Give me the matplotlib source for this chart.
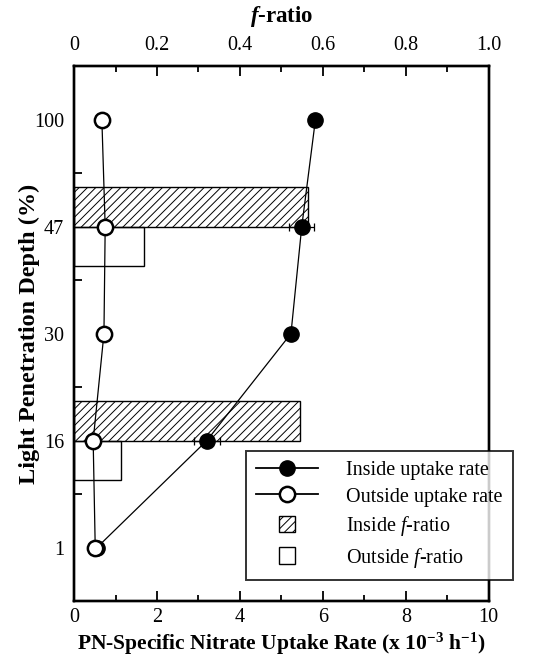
import numpy as np
import matplotlib
matplotlib.use("Agg")
import matplotlib.pyplot as plt
import matplotlib.patches as mpatches
from matplotlib.lines import Line2D
from matplotlib.legend_handler import HandlerPatch

plt.rcParams["font.family"] = ["Liberation Serif", "DejaVu Serif"]
plt.rcParams["mathtext.fontset"] = "custom"
plt.rcParams["mathtext.rm"] = "Liberation Serif:bold"
plt.rcParams["mathtext.it"] = "Liberation Serif:italic"
plt.rcParams["mathtext.bf"] = "Liberation Serif:bold"
plt.rcParams["mathtext.bfit"] = "Liberation Serif:bold:italic"
plt.rcParams["hatch.linewidth"] = 0.7

# depth levels, bottom to top
depth_labels = ["1", "16", "30", "47", "100"]
inside_rate = [0.55, 3.2, 5.23, 5.49, 5.82]
inside_err = [0, 0.32, 0, 0.30, 0]
outside_rate = [0.51, 0.46, 0.72, 0.75, 0.67]

# f-ratio bars only at 16 and 47 %
f_depths = ["16", "47"]
inside_f = [0.546, 0.565]
outside_f = [0.113, 0.168]

ypos = np.arange(len(depth_labels))
fpos = [depth_labels.index(d) for d in f_depths]

fig = plt.figure(figsize=(5.33, 6.62), dpi=100)
ax = fig.add_axes([0.139, 0.092, 0.778, 0.808])
ax2 = ax.twiny()

# bars on the f-ratio axis
ax2.barh(fpos, inside_f, height=0.37, align="edge", facecolor="white",
         edgecolor="black", hatch="////", linewidth=1.0, zorder=1)
ax2.barh(fpos, outside_f, height=-0.37, align="edge", facecolor="none",
         edgecolor="black", linewidth=1.0, zorder=1)
ax2.set_xlim(0, 1.0)
ax2.set_xticks([0, 0.2, 0.4, 0.6, 0.8, 1.0])
ax2.set_xticklabels(["0", "0.2", "0.4", "0.6", "0.8", "1.0"])
ax2.set_xticks([0.1, 0.3, 0.5, 0.7, 0.9], minor=True)
ax2.tick_params(axis="x", which="major", direction="in", length=7, width=1.3, labelsize=14.5, pad=8)
ax2.tick_params(axis="x", which="minor", direction="in", length=4, width=1.3)
ax2.set_xlabel(r"$\mathbfit{f}$-ratio", fontsize=16.5, fontweight="bold", labelpad=10)

# uptake rate lines on the main axis, drawn above the bars
ax.set_zorder(ax2.get_zorder() + 1)
ax.patch.set_visible(False)
ax.errorbar(inside_rate, ypos, xerr=inside_err, fmt="-o", color="black",
            mfc="black", mec="black", ms=11, lw=0.9, elinewidth=0.9,
            capsize=3, capthick=0.9, zorder=3)
ax.plot(outside_rate, ypos, "-o", color="black", mfc="white", mec="black",
        ms=11, mew=1.8, lw=0.9, zorder=4)

ax.set_xlim(0, 10)
ax.set_ylim(-0.5, 4.5)
ax.set_xticks([0, 2, 4, 6, 8, 10])
ax.set_xticks([1, 3, 5, 7, 9], minor=True)
ax.tick_params(axis="x", which="major", direction="in", length=7, width=1.3, labelsize=14.5, pad=5)
ax.tick_params(axis="x", which="minor", direction="in", length=4, width=1.3)
ax.set_yticks(ypos)
ax.set_yticklabels(depth_labels)
ax.set_yticks(ypos[:-1] + 0.5, minor=True)
ax.tick_params(axis="y", which="major", length=0, labelsize=14.5, pad=7)
ax.tick_params(axis="y", which="minor", direction="in", length=6, width=1.3)
for sp in ax.spines.values():
    sp.set_linewidth(1.7)
for sp in ax2.spines.values():
    sp.set_linewidth(1.7)

ax.set_xlabel(r"PN-Specific Nitrate Uptake Rate (x 10$^{-3}$ h$^{-1}$)",
              fontsize=15.5, fontweight="bold", labelpad=3)
ax.set_ylabel("Light Penetration Depth (%)", fontsize=17.5, fontweight="bold")
ax.yaxis.set_label_coords(-0.083, 0.5)


def small_box(legend, orig_handle, xdescent, ydescent, width, height, fontsize):
    s = 12
    return mpatches.Rectangle((-xdescent + width / 2 - s / 2, -ydescent + height / 2 - s / 2), s, s)


handles = [
    Line2D([], [], color="black", marker="o", mfc="black", mec="black", ms=11, lw=1.3),
    Line2D([], [], color="black", marker="o", mfc="white", mec="black", ms=11, mew=1.8, lw=1.3),
    mpatches.Patch(facecolor="white", edgecolor="black", hatch="////", linewidth=1.0),
    mpatches.Patch(facecolor="white", edgecolor="black", linewidth=1.0),
]
labels = ["Inside uptake rate", "Outside uptake rate",
          r"Inside $f$-ratio", r"Outside $f$-ratio"]
leg = ax.legend(handles, labels, loc="lower left",
                bbox_to_anchor=(0.462, 0.124), bbox_transform=fig.transFigure,
                fontsize=14.5, frameon=True, fancybox=False, handlelength=3.05,
                handletextpad=1.4, labelspacing=0.38, borderpad=0.5,
                borderaxespad=0,
                handler_map={mpatches.Patch: HandlerPatch(patch_func=small_box)})
leg.get_frame().set_edgecolor("black")
leg.get_frame().set_linewidth(1.4)
leg.set_zorder(10)

fig.savefig("out.png", dpi=100)
